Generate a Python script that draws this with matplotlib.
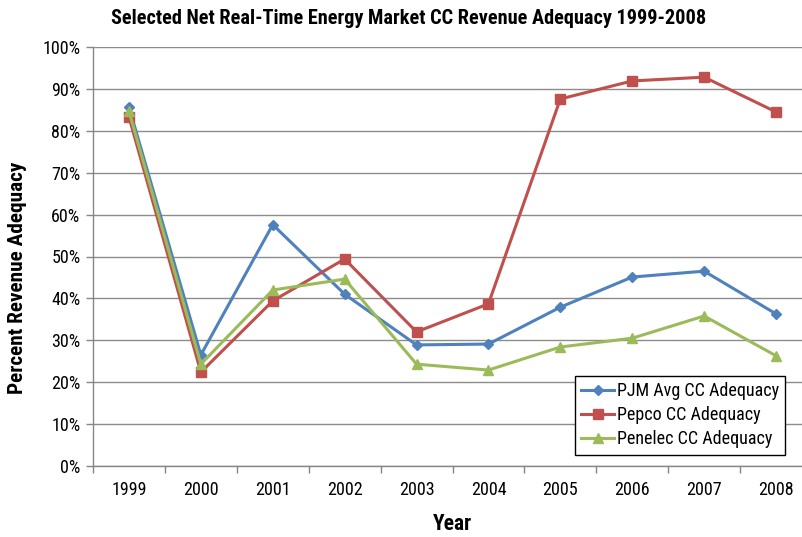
import matplotlib
matplotlib.use("Agg")
import matplotlib.pyplot as plt
from matplotlib import font_manager
import numpy as np

years = ["1999", "2000", "2001", "2002", "2003", "2004", "2005", "2006", "2007", "2008"]
pjm = [85.7, 26.5, 57.6, 41.0, 28.9, 29.1, 37.9, 45.1, 46.5, 36.3]
pepco = [83.3, 22.4, 39.4, 49.4, 32.0, 38.7, 87.6, 91.9, 92.8, 84.5]
penelec = [84.7, 24.3, 42.0, 44.6, 24.3, 22.9, 28.4, 30.5, 35.8, 26.3]
yticks = [0, 10, 20, 30, 40, 50, 60, 70, 80, 90, 100]

fonts = font_manager.fontManager.ttflist
names = {f.name for f in fonts}
bold_names = {f.name for f in fonts if (f.weight in (700, "bold")) and f.style == "normal"}


def pick(cands, pool):
    for c in cands:
        if c in pool:
            return c
    return "DejaVu Sans"


fam = pick(["Liberation Sans Narrow", "Arial Narrow", "Roboto Condensed", "Archivo Narrow"], names)
bfam = pick(["Liberation Sans Narrow", "Arial Narrow", "Roboto Condensed", "Asap Condensed",
             "Barlow Semi Condensed"], bold_names)
plt.rcParams['font.family'] = [fam, 'DejaVu Sans']

W, H = 802, 537
fig = plt.figure(figsize=(W / 100, H / 100), dpi=100)
left, right, top, bottom = 93, 812, 47, 466
ax = fig.add_axes([left / W, 1 - bottom / H, (right - left) / W, (bottom - top) / H])

x = np.arange(len(years))
ax.plot(x, pjm, color="#4F81BD", lw=2.2, marker="D", ms=5, label="PJM Avg CC Adequacy", zorder=3)
ax.plot(x, pepco, color="#C0504D", lw=2.2, marker="s", ms=7, label="Pepco CC Adequacy", zorder=3)
ax.plot(x, penelec, color="#9BBB59", lw=2.2, marker="^", ms=7, label="Penelec CC Adequacy", zorder=3)

ax.set_xlim(-0.5, len(years) - 0.5)
ax.set_ylim(0, 100)
ax.set_yticks(yticks)
ax.set_yticklabels([f"{v}%" for v in yticks], fontsize=13)
ax.set_xticks(x)
ax.set_xticklabels(years, fontsize=13)
ax.set_xticks(np.arange(-0.5, len(years) - 0.4, 1), minor=True)
ax.tick_params(axis="x", which="major", length=0, pad=11)
ax.tick_params(axis="x", which="minor", length=5, color="#868686", width=1)
ax.tick_params(axis="y", length=5, color="#868686", width=1, pad=4)
ax.grid(axis="y", color="#8C8C8C", lw=1)
ax.set_axisbelow(True)
for s in ["top", "right"]:
    ax.spines[s].set_visible(False)
for s in ["left", "bottom"]:
    ax.spines[s].set_color("#868686")
    ax.spines[s].set_linewidth(1)

fig.text((112 + 705) / 2 / W, 1 - 18 / H, "Selected Net Real-Time Energy Market CC Revenue Adequacy 1999-2008",
         ha="center", va="center", fontsize=14.6, fontweight="bold", family=[bfam, 'DejaVu Sans'])
fig.text(18 / W, 1 - 278 / H, "Percent Revenue Adequacy", rotation=90, ha="center", va="center",
         fontsize=15.3, fontweight="bold", family=[bfam, 'DejaVu Sans'])
fig.text(452 / W, 1 - 524 / H, "Year", ha="center", va="center", fontsize=15.5, fontweight="bold",
         family=[bfam, 'DejaVu Sans'])

leg = ax.legend(loc="upper left", bbox_to_anchor=((575 - left) / (right - left), (bottom - 376) / (bottom - top)),
                fontsize=13, frameon=True, fancybox=False, edgecolor="black", framealpha=1,
                borderpad=0.35, labelspacing=0.33, handlelength=1.8, handletextpad=0.15, borderaxespad=0)
leg.get_frame().set_linewidth(1)

fig.savefig("out.png", dpi=100)
